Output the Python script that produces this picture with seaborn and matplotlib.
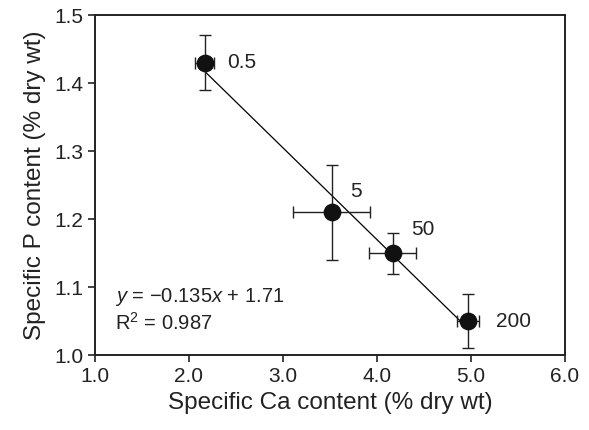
import numpy as np
import pandas as pd
import matplotlib
matplotlib.use('Agg')
import matplotlib.pyplot as plt
import seaborn as sns

# Datos
ca = [2.17, 3.52, 4.17, 4.97]
p = [1.43, 1.21, 1.15, 1.05]
ca_err = [0.10, 0.41, 0.25, 0.12]
p_err = [0.04, 0.07, 0.03, 0.04]
etiquetas = ['0.5', '5', '50', '200']
pendiente = -0.135
intercepto = 1.71
r2 = 0.987

sns.set_theme(style='ticks')
plt.rcParams['font.family'] = ['Liberation Sans', 'DejaVu Sans']
plt.rcParams['mathtext.fontset'] = 'custom'
plt.rcParams['mathtext.rm'] = 'Liberation Sans'
plt.rcParams['mathtext.it'] = 'Liberation Sans:italic'

df = pd.DataFrame({'ca': ca, 'p': p})
x_fit = np.array([min(ca), max(ca)])
df_fit = pd.DataFrame({'x': x_fit, 'y': pendiente * x_fit + intercepto})

fig = plt.figure(figsize=(5.89, 4.30), dpi=100)
ax = fig.add_axes([0.161, 0.174, 0.798, 0.791])

sns.lineplot(data=df_fit, x='x', y='y', ax=ax, color='black', linewidth=0.9)
ax.errorbar(ca, p, xerr=ca_err, yerr=p_err, fmt='none', ecolor='#222222',
            elinewidth=1.0, capsize=4, capthick=1.0, zorder=3)
sns.scatterplot(data=df, x='ca', y='p', ax=ax, s=140, color='#111111',
                edgecolor='#111111', zorder=4)

offsets = [(0.24, 0.0), (0.2, 0.03), (0.19, 0.035), (0.3, 0.0)]
for xi, yi, lab, (dx, dy) in zip(ca, p, etiquetas, offsets):
    ax.text(xi + dx, yi + dy, lab, fontsize=15, va='center', ha='left', color='#222222')

ax.text(1.21, 1.085, r'$y$ = $-$0.135$x$ + 1.71', fontsize=14.5, va='center',
        color='#222222')
ax.text(1.21, 1.047, f'R$^2$ = {r2}', fontsize=14.5, va='center', color='#222222')

ax.set_xlim(1.0, 6.0)
ax.set_ylim(1.0, 1.5)
ax.set_xticks(np.arange(1.0, 6.01, 1.0))
ax.set_yticks(np.arange(1.0, 1.51, 0.1))
ax.set_xticklabels([f'{v:.1f}' for v in np.arange(1.0, 6.01, 1.0)])
ax.set_yticklabels([f'{v:.1f}' for v in np.arange(1.0, 1.51, 0.1)])
ax.tick_params(labelsize=15, direction='out', length=5, width=1.2, colors='#222222')
for s in ax.spines.values():
    s.set_visible(True)
    s.set_linewidth(1.4)
    s.set_color('#222222')

ax.set_xlabel('Specific Ca content (% dry wt)', fontsize=17.5, color='#222222', labelpad=4)
ax.set_ylabel('Specific P content (% dry wt)', fontsize=17.5, color='#222222', labelpad=6)

fig.savefig('out.png', dpi=100)
